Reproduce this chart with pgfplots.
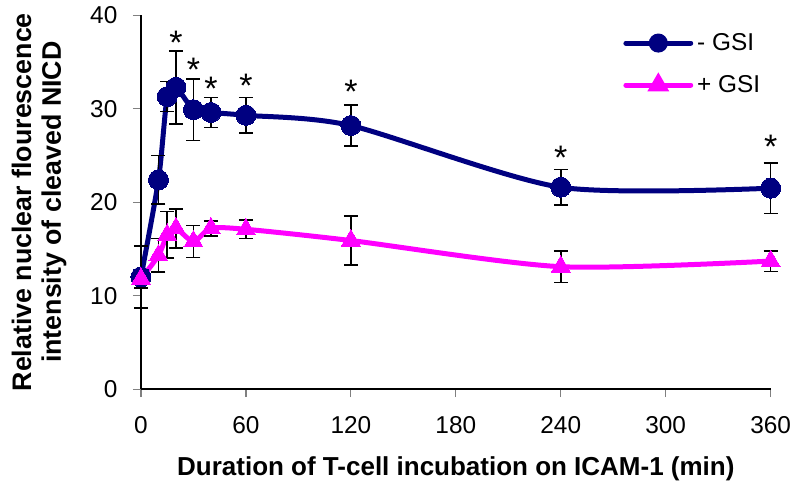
\documentclass[border=0pt]{standalone}
\usepackage{pgfplots}
\pgfplotsset{compat=1.18}
\usepackage{fontspec}
\setmainfont{Liberation Sans}
\definecolor{navyline}{RGB}{0,0,128}
\definecolor{magline}{RGB}{255,0,255}
\begin{document}
\begin{tikzpicture}
  \begin{axis}[
      scale only axis,
      width=315pt,
      height=187pt,
      xmin=0, xmax=360,
      ymin=0, ymax=40,
      xtick={0,60,...,360},
      ytick={0,10,...,40},
      axis x line=bottom,
      axis y line=left,
      axis line style={-, line width=0.65pt, black},
      tick align=outside,
      major tick length=4pt,
      tick style={line width=0.6pt, gray},
      clip=false,
      /pgf/number format/assume math mode=true,
      ticklabel style={font=\fontsize{12.2}{14}\selectfont},
      yticklabel style={xshift=-4.3pt},
      xticklabel style={yshift=-6pt, inner xsep=2pt},
      xlabel={\textbf{Duration of T-cell incubation on ICAM-1 (min)}},
      ylabel={\textbf{Relative nuclear flourescence}\\\textbf{intensity of cleaved NICD}},
      xlabel style={font=\fontsize{13}{15}\selectfont, yshift=-5pt},
      ylabel style={font=\fontsize{13.4}{15}\selectfont, align=center,
        inner ysep=5.8pt, yshift=2.5pt},
      legend style={at={(1.0,0.975)}, anchor=north east, draw=none, fill=none,
        font=\fontsize{12.2}{14}\selectfont, row sep=7pt},
      legend cell align=left,
      legend image code/.code={
        \draw[mark repeat=2, mark phase=2, #1, line cap=round, mark options={scale=0.7}]
          plot coordinates {(0cm,0cm) (0.57cm,0cm) (1.14cm,0cm)};},
      error bars/error bar style={black, line width=0.8pt},
      error bars/error mark options={rotate=90, black, mark size=3.5pt, line width=0.8pt},
    ]
    % - GSI
    \addplot[navyline, line width=2.5pt, smooth, tension=0.45,
      mark=*, mark size=5pt, mark options={fill=navyline, draw=navyline, line width=0pt},
      error bars/.cd, y dir=both, y explicit]
      coordinates {
        (0,12.0) +- (0,3.3)
        (10,22.4) +- (0,2.6)
        (15,31.3) +- (0,1.6)
        (20,32.3) +- (0,3.9)
        (30,29.9) +- (0,3.3)
        (40,29.6) +- (0,1.6)
        (60,29.3) +- (0,1.9)
        (120,28.2) +- (0,2.2)
        (240,21.6) +- (0,1.9)
        (360,21.5) +- (0,2.7)
      };
    \addlegendentry{- GSI}
    % + GSI
    \addplot[magline, line width=2.5pt, smooth, tension=0.45,
      mark=triangle*, mark size=5.5pt, mark options={fill=magline, draw=magline, line width=0pt},
      error bars/.cd, y dir=both, y explicit]
      coordinates {
        (0,11.8) +- (0,1.0)
        (10,14.3) +- (0,1.8)
        (15,16.5) +- (0,2.5)
        (20,17.2) +- (0,2.1)
        (30,15.8) +- (0,1.7)
        (40,17.2) +- (0,0.8)
        (60,17.1) +- (0,1.0)
        (120,15.9) +- (0,2.6)
        (240,13.1) +- (0,1.7)
        (360,13.7) +- (0,1.1)
      };
    \addlegendentry{+ GSI}
    % significance marks
    \addplot[only marks, mark=none, forget plot,
      nodes near coords={*},
      every node near coord/.append style={anchor=center, inner sep=0pt,
        font=\fontsize{17}{17}\selectfont, black}]
      coordinates {
        (20,37.1) (30,34.2) (40,32.1) (60,32.5)
        (120,31.8) (240,24.8) (360,25.9)
      };
  \end{axis}
\end{tikzpicture}
\end{document}
